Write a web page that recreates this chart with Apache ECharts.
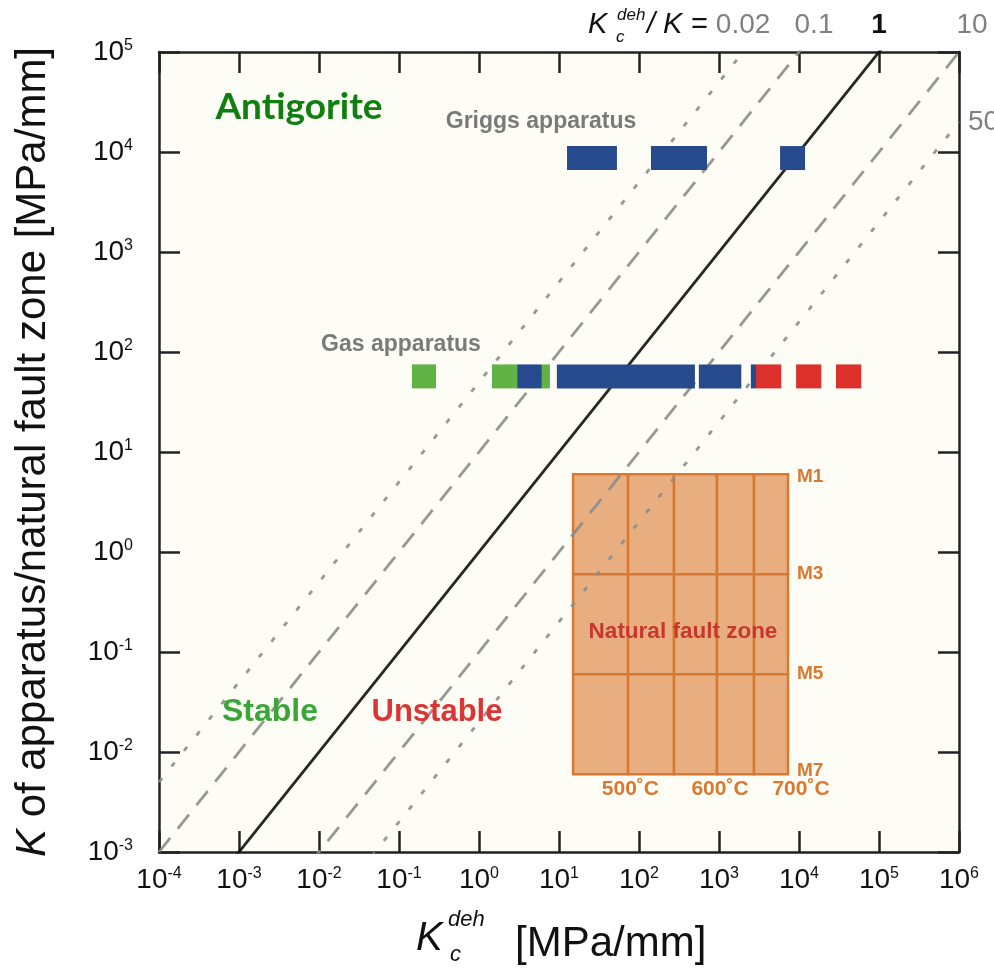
<!DOCTYPE html>
<html>
<head>
<meta charset="utf-8">
<script src="https://cdn.jsdelivr.net/npm/echarts@6/dist/echarts.min.js"></script>
<style>
  html, body { margin: 0; padding: 0; background: #ffffff; }
  #c { width: 994px; height: 972px; }
</style>
</head>
<body>
<div id="c"></div>
<script>
// Axis ranges and tick exponents (log10)
const xMin = 1e-4, xMax = 1e6;
const yMin = 1e-3, yMax = 1e5;
const xTickExps = [-4, -3, -2, -1, 0, 1, 2, 3, 4, 5, 6];
const yTickExps = [-3, -2, -1, 0, 1, 2, 3, 4, 5];

// Reference lines: Kc_deh / K = ratio
const ratios = [0.02, 0.1, 1, 10, 50];
const ratioLabels = ['0.02', '0.1', '1', '10', '50'];

// Griggs apparatus: stiffness and Kc_deh ranges
const griggsK = 8700;
const griggsBlue = [[12.6, 53], [141, 708], [5800, 11900]];

// Gas apparatus: stiffness and Kc_deh ranges (stable / transitional / unstable)
const gasK = 57;
const gasGreen = [[0.145, 0.29], [1.45, 3.0], [6.1, 7.7]];
const gasBlue = [[3.0, 6.1], [9.4, 500], [560, 1900], [2500, 2900]];
const gasRed = [[2900, 6000], [9200, 19000], [29000, 60000]];

// Natural fault zone grid: Kc_deh boundaries and K levels (M1..M7)
const faultX = [15, 73, 274, 944, 2740, 7290];
const faultY = [6, 0.6, 0.06, 0.006];
const faultYLabels = ['M1', 'M3', 'M5', 'M7'];
const tempX = [78, 1030, 10600];
const tempLabels = ['500˚C', '600˚C', '700˚C'];

const SANS = '"Liberation Sans", Arial, Helvetica, sans-serif';
const GRAY = '#8c8c8c';
const BLUE = '#264a8c';
const GREEN = '#62b346';
const RED = '#dc302c';
const ORANGE = '#d97830';

function powLabel(exps) {
  return function (v) {
    const e = Math.round(Math.log10(v));
    if (exps.indexOf(e) < 0) return '';
    return '{b|10}{s|' + e + '}';
  };
}
const tickRich = {
  b: { fontSize: 28, fontFamily: SANS, color: '#111', verticalAlign: 'bottom' },
  s: { fontSize: 16, fontFamily: SANS, color: '#111', verticalAlign: 'bottom', padding: [0, 0, 12, 0] }
};

const frameLine = { show: true, onZero: false, lineStyle: { color: '#222', width: 2.5 } };
const innerTick = { show: true, inside: true, length: 21, lineStyle: { color: '#222', width: 2.5 } };

function logAxis(min, max, position, showLabel, exps, margin) {
  return {
    type: 'log', logBase: 10, min: min, max: max, interval: 1,
    position: position,
    axisLine: frameLine,
    axisTick: innerTick,
    splitLine: { show: false },
    minorTick: { show: false },
    axisLabel: showLabel
      ? { show: true, margin: margin, formatter: powLabel(exps), rich: tickRich }
      : { show: false }
  };
}

// Horizontal bar segments at a fixed K, spanning a Kc_deh range
function segmentSeries(ranges, k, color) {
  return {
    type: 'custom',
    xAxisIndex: 0, yAxisIndex: 0,
    z: 5,
    silent: true,
    data: ranges.map(r => [r[0], r[1], k]),
    encode: { x: [0, 1], y: 2 },
    renderItem: function (params, api) {
      const p0 = api.coord([api.value(0), api.value(2)]);
      const p1 = api.coord([api.value(1), api.value(2)]);
      return {
        type: 'rect',
        shape: { x: p0[0], y: p0[1] - 12, width: p1[0] - p0[0], height: 24 },
        style: { fill: color }
      };
    }
  };
}

// Reference lines drawn through the whole plot (clipped to the grid)
const lineStyles = {
  0.02: { color: GRAY, type: [5, 15], width: 2.8 },
  0.1: { color: GRAY, type: [18, 12], width: 2.8 },
  1: { color: '#111', type: 'solid', width: 2.8 },
  10: { color: GRAY, type: [18, 12], width: 2.8 },
  50: { color: GRAY, type: [5, 15], width: 2.8 }
};
const ratioSeries = ratios.map(r => ({
  type: 'line',
  xAxisIndex: 0, yAxisIndex: 0,
  z: 3,
  silent: true,
  symbol: 'none',
  clip: true,
  data: [[xMin, xMin / r], [xMax, xMax / r]],
  lineStyle: Object.assign({ opacity: 0.9, cap: 'butt' }, lineStyles[r])
}));

// Labels for each reference line where it leaves the plot
const ratioShift = { 0.02: 0, 0.1: 15, 1: 0, 10: 13, 50: 0 };
const ratioLabelSeries = {
  type: 'custom',
  xAxisIndex: 0, yAxisIndex: 0,
  z: 6,
  silent: true,
  clip: false,
  data: ratios.map(r => [r]),
  renderItem: function (params, api) {
    const r = ratios[params.dataIndex];
    const txt = ratioLabels[params.dataIndex];
    const topKc = r * yMax;
    const isOne = r === 1;
    if (topKc <= xMax * 1.0001) {
      const p = api.coord([topKc, yMax]);
      return {
        type: 'text',
        x: p[0] + ratioShift[r], y: 25,
        style: {
          text: txt, fill: isOne ? '#111' : '#808080',
          font: (isOne ? 'bold ' : '') + '28px ' + SANS,
          align: 'center', verticalAlign: 'middle',
          textAlign: 'center', textVerticalAlign: 'middle'
        }
      };
    }
    const p = api.coord([xMax, xMax / r]);
    return {
      type: 'text',
      x: p[0] + 9, y: p[1],
      style: {
        text: txt, fill: '#808080', font: '28px ' + SANS,
        align: 'left', verticalAlign: 'middle',
        textAlign: 'left', textVerticalAlign: 'middle'
      }
    };
  }
};

// Natural fault zone cells
const faultCells = [];
for (let i = 0; i < faultX.length - 1; i++) {
  for (let j = 0; j < faultY.length - 1; j++) {
    faultCells.push([faultX[i], faultX[i + 1], faultY[j], faultY[j + 1]]);
  }
}
const faultSeries = {
  type: 'custom',
  xAxisIndex: 0, yAxisIndex: 0,
  z: 2,
  silent: true,
  data: faultCells,
  renderItem: function (params, api) {
    const a = api.coord([api.value(0), api.value(2)]);
    const b = api.coord([api.value(1), api.value(3)]);
    return {
      type: 'rect',
      shape: { x: a[0], y: a[1], width: b[0] - a[0], height: b[1] - a[1] },
      style: { fill: '#e8ae80', stroke: ORANGE, lineWidth: 2.5 }
    };
  }
};
const faultLabelSeries = {
  type: 'custom',
  xAxisIndex: 0, yAxisIndex: 0,
  z: 6,
  silent: true,
  clip: false,
  data: faultYLabels.map((t, i) => [faultX[faultX.length - 1], faultY[i]]),
  renderItem: function (params, api) {
    const p = api.coord([api.value(0), api.value(1)]);
    return {
      type: 'text',
      x: p[0] + 9, y: p[1] + (params.dataIndex === 0 ? 3 : (params.dataIndex === 3 ? -3 : 0)),
      style: {
        text: faultYLabels[params.dataIndex], fill: ORANGE,
        font: 'bold 19px ' + SANS,
        align: 'left', verticalAlign: 'middle',
        textAlign: 'left', textVerticalAlign: 'middle'
      }
    };
  }
};
const tempLabelSeries = {
  type: 'custom',
  xAxisIndex: 0, yAxisIndex: 0,
  z: 6,
  silent: true,
  clip: false,
  data: tempX.map(x => [x, faultY[faultY.length - 1]]),
  renderItem: function (params, api) {
    const p = api.coord([api.value(0), api.value(1)]);
    return {
      type: 'text',
      x: p[0], y: p[1] + 15,
      style: {
        text: tempLabels[params.dataIndex], fill: ORANGE,
        font: 'bold 21px ' + SANS,
        align: 'center', verticalAlign: 'middle',
        textAlign: 'center', textVerticalAlign: 'middle'
      }
    };
  }
};

function txt(x, y, text, font, fill, align, extra) {
  return Object.assign({
    type: 'text', x: x, y: y, silent: true, z: 50,
    style: {
      text: text, font: font, fill: fill,
      align: align || 'center', verticalAlign: 'middle',
      textAlign: align || 'center', textVerticalAlign: 'middle'
    }
  }, extra || {});
}

const graphics = [
  // heading of the ratio scale
  txt(588, 25, 'K', 'italic 29px ' + SANS, '#111', 'left'),
  txt(617, 15, 'deh', 'italic 17px ' + SANS, '#111', 'left'),
  txt(616, 37, 'c', 'italic 17px ' + SANS, '#111', 'left'),
  txt(647, 25, '/ K', 'italic 29px ' + SANS, '#111', 'left'),
  txt(691, 25, '=', '29px ' + SANS, '#111', 'left'),

  // x-axis title
  txt(416, 939, 'K', 'italic 40px ' + SANS, '#111', 'left'),
  txt(448, 920, 'deh', 'italic 22px ' + SANS, '#111', 'left'),
  txt(450, 955, 'c', 'italic 22px ' + SANS, '#111', 'left'),
  txt(515, 944, '[MPa/mm]', '42px ' + SANS, '#111', 'left'),

  // y-axis title
  {
    type: 'text', x: 33, y: 452, rotation: Math.PI / 2, silent: true, z: 50,
    style: {
      text: '{i|K} of apparatus/natural fault zone [MPa/mm]',
      font: '42px ' + SANS, fill: '#111',
      align: 'center', verticalAlign: 'middle',
      textAlign: 'center', textVerticalAlign: 'middle',
      rich: { i: { fontStyle: 'italic', fontSize: 42, fontFamily: SANS, fill: '#111', color: '#111' } }
    }
  },

  // annotations
  txt(299, 107, 'Antigorite', 'bold 37px Lato, "Open Sans", sans-serif', '#0f800f'),
  txt(541, 122, 'Griggs apparatus', 'bold 23px ' + SANS, '#7a7a7a'),
  txt(401, 345, 'Gas apparatus', 'bold 23px ' + SANS, '#7a7a7a'),
  txt(270, 712, 'Stable', 'bold 32px ' + SANS, '#3aa63a'),
  txt(437, 712, 'Unstable', 'bold 31px ' + SANS, '#dd3535'),
  txt(683, 632, 'Natural fault zone', 'bold 22.5px ' + SANS, '#c8372d')
];

const chart = echarts.init(document.getElementById('c'), null, { renderer: 'canvas' });
chart.setOption({
  animation: false,
  backgroundColor: '#ffffff',
  grid: {
    left: 159, top: 52, width: 800, height: 800,
    show: true, backgroundColor: '#fdfdf6', borderWidth: 0,
    containLabel: false
  },
  xAxis: [
    logAxis(xMin, xMax, 'bottom', true, xTickExps, 14),
    logAxis(xMin, xMax, 'top', false, xTickExps, 0)
  ],
  yAxis: [
    logAxis(yMin, yMax, 'left', true, yTickExps, 26),
    logAxis(yMin, yMax, 'right', false, yTickExps, 0)
  ],
  series: [
    faultSeries,
    ...ratioSeries,
    segmentSeries(griggsBlue, griggsK, BLUE),
    segmentSeries(gasGreen, gasK, GREEN),
    segmentSeries(gasBlue, gasK, BLUE),
    segmentSeries(gasRed, gasK, RED),
    ratioLabelSeries,
    faultLabelSeries,
    tempLabelSeries
  ],
  graphic: { elements: graphics }
});
</script>
</body>
</html>
